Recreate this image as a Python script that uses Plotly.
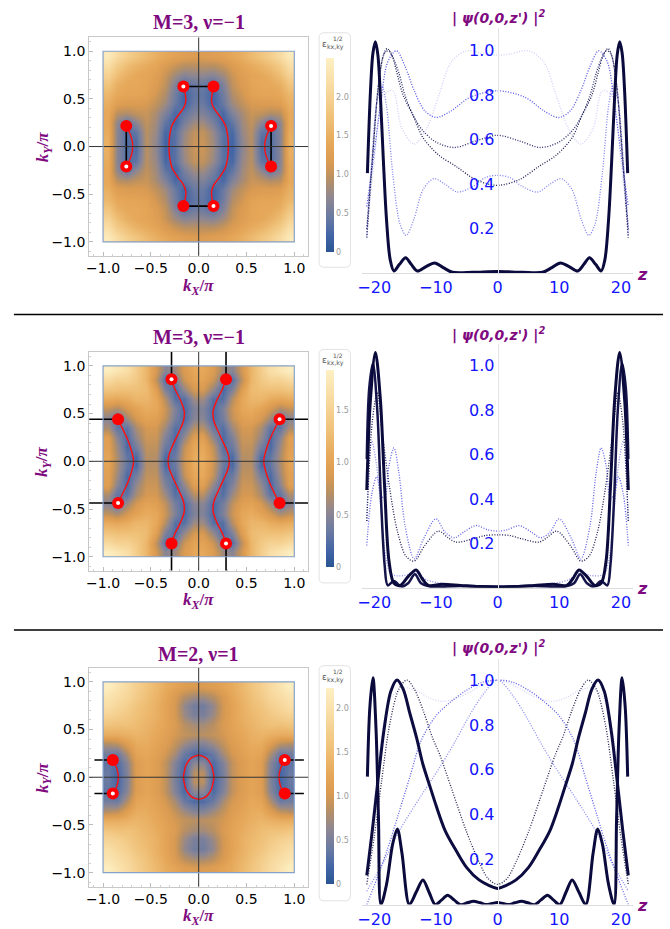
import numpy as np
import plotly.graph_objects as go

W, H = 670, 929

# ---------------- heatmap data (quarter grids, cell centres 0.05..0.95, rows = ky ascending) -------------
grid_pos = [0.05, 0.15, 0.25, 0.35, 0.45, 0.55, 0.65, 0.75, 0.85, 0.95]

field1_q = [
    [1.05, 0.80, 0.35, 0.20, 0.70, 0.95, 0.30, 0.30, 0.65, 1.50],
    [1.00, 0.75, 0.35, 0.25, 0.75, 0.95, 0.40, 0.30, 0.65, 1.45],
    [0.80, 0.55, 0.20, 0.40, 0.80, 1.00, 0.70, 0.40, 0.70, 1.40],
    [0.60, 0.40, 0.25, 0.60, 0.85, 1.05, 1.00, 0.90, 0.95, 1.40],
    [0.45, 0.20, 0.45, 0.80, 1.00, 1.15, 1.20, 1.20, 1.25, 1.50],
    [0.40, 0.20, 0.50, 0.90, 1.10, 1.30, 1.35, 1.35, 1.40, 1.60],
    [0.45, 0.30, 0.60, 1.00, 1.20, 1.35, 1.40, 1.40, 1.50, 1.80],
    [0.70, 0.65, 0.80, 1.05, 1.25, 1.35, 1.40, 1.50, 1.70, 2.00],
    [0.95, 0.95, 1.05, 1.20, 1.35, 1.45, 1.55, 1.70, 1.90, 2.20],
    [1.20, 1.25, 1.30, 1.40, 1.50, 1.65, 1.80, 1.95, 2.15, 2.40],
]
field2_q = [
    [1.10, 0.80, 0.35, 0.20, 0.70, 0.70, 0.20, 0.30, 0.65, 1.00],
    [1.05, 0.75, 0.25, 0.35, 0.75, 0.75, 0.40, 0.20, 0.60, 0.95],
    [0.95, 0.55, 0.20, 0.45, 0.80, 0.80, 0.55, 0.20, 0.50, 0.95],
    [0.70, 0.35, 0.25, 0.60, 0.85, 0.85, 0.65, 0.30, 0.30, 0.65],
    [0.50, 0.20, 0.40, 0.75, 0.95, 1.00, 0.85, 0.60, 0.30, 0.50],
    [0.45, 0.20, 0.45, 0.80, 1.05, 1.10, 1.00, 0.85, 0.65, 0.75],
    [0.60, 0.25, 0.25, 0.70, 1.05, 1.20, 1.20, 1.10, 1.05, 1.10],
    [0.85, 0.55, 0.20, 0.45, 0.95, 1.25, 1.30, 1.30, 1.30, 1.35],
    [1.00, 0.80, 0.40, 0.25, 0.75, 1.20, 1.40, 1.50, 1.50, 1.60],
    [1.05, 0.90, 0.60, 0.50, 0.85, 1.20, 1.45, 1.65, 1.75, 1.85],
]
field3_q = [
    [0.85, 0.20, 0.50, 0.90, 1.10, 1.20, 1.10, 0.55, 0.20, 0.40],
    [0.60, 0.25, 0.55, 0.90, 1.10, 1.20, 1.10, 0.60, 0.25, 0.35],
    [0.25, 0.40, 0.75, 1.00, 1.15, 1.25, 1.20, 0.80, 0.40, 0.45],
    [0.55, 0.70, 0.90, 1.10, 1.20, 1.30, 1.30, 1.10, 0.85, 0.80],
    [0.85, 0.90, 1.00, 1.15, 1.25, 1.35, 1.40, 1.35, 1.30, 1.30],
    [0.75, 0.85, 1.05, 1.20, 1.30, 1.40, 1.50, 1.55, 1.55, 1.60],
    [0.50, 0.70, 1.00, 1.20, 1.35, 1.45, 1.55, 1.65, 1.75, 1.80],
    [0.45, 0.65, 1.00, 1.20, 1.35, 1.50, 1.60, 1.75, 1.85, 1.95],
    [0.75, 0.85, 1.05, 1.25, 1.40, 1.55, 1.70, 1.85, 1.95, 2.05],
    [1.05, 1.10, 1.20, 1.30, 1.45, 1.60, 1.75, 1.90, 2.05, 2.20],
]
zmax_vals = [2.5, 1.88, 2.23]
cbar_tickvals = [[0, 0.5, 1.0, 1.5, 2.0], [0, 0.5, 1.0, 1.5], [0, 0.5, 1.0, 1.5, 2.0]]
cbar_ticktext = [["0", "0.5", "1.0", "1.5", "2.0"], ["0", "0.5", "1.0", "1.5"], ["0", "0.5", "1.0", "1.5", "2.0"]]

panel_titles = ["M=3, ν=−1", "M=3, ν=−1", "M=2, ν=1"]

# ---------------- red curves (upper half of right-hand curve, from ky=0 to the dot) -------------
row1_inner_x = [0.31, 0.305, 0.28, 0.22, 0.16, 0.135, 0.14, 0.155]
row1_inner_y = [0.0, 0.10, 0.22, 0.32, 0.40, 0.47, 0.55, 0.63]
row1_outer_x = [0.69, 0.70, 0.725, 0.757]
row1_outer_y = [0.0, 0.08, 0.15, 0.217]

row2_inner_x = [0.32, 0.31, 0.27, 0.21, 0.16, 0.15, 0.19, 0.25, 0.285]
row2_inner_y = [0.0, 0.07, 0.17, 0.30, 0.42, 0.52, 0.64, 0.76, 0.86]
row2_outer_x = [0.68, 0.70, 0.74, 0.80, 0.845]
row2_outer_y = [0.0, 0.10, 0.22, 0.35, 0.44]

row3_arc_x = [0.84, 0.855, 0.90]
row3_arc_y = [0.0, 0.09, 0.18]
row3_ellipse_x = [0.16, 0.15, 0.135, 0.11, 0.08, 0.04, 0.0]
row3_ellipse_y = [0.0, 0.06, 0.12, 0.165, 0.20, 0.222, 0.23]

# ---------------- dots (Weyl points) -------------
dots1_x = [-0.16, 0.155, -0.757, -0.757, 0.757, 0.757, -0.16, 0.155]
dots1_y = [0.63, 0.63, 0.217, -0.21, 0.217, -0.21, -0.625, -0.625]
dots1_hollow = [1, 0, 0, 1, 1, 0, 0, 1]
dots2_x = [-0.284, 0.286, -0.843, 0.846, -0.843, 0.846, -0.284, 0.286]
dots2_y = [0.86, 0.86, 0.44, 0.44, -0.437, -0.437, -0.862, -0.862]
dots2_hollow = [1, 0, 0, 1, 1, 0, 0, 1]
dots3_x = [-0.898, -0.898, 0.90, 0.90]
dots3_y = [0.18, -0.17, 0.18, -0.17]
dots3_hollow = [0, 1, 1, 0]

# ---------------- black segments [x0, y0, x1, y1] -------------
segs1 = [[-0.16, 0.63, 0.155, 0.63], [-0.16, -0.625, 0.155, -0.625],
         [-0.757, 0.217, -0.757, -0.21], [0.757, 0.217, 0.757, -0.21]]
segs2 = [[-0.284, 0.86, -0.284, 1.15], [0.286, 0.86, 0.286, 1.15],
         [-0.284, -0.862, -0.284, -1.15], [0.286, -0.862, 0.286, -1.15],
         [-0.843, 0.44, -1.15, 0.44], [-0.843, -0.437, -1.15, -0.437],
         [0.846, 0.44, 1.15, 0.44], [0.846, -0.437, 1.15, -0.437]]
segs3 = [[-0.898, 0.18, -1.09, 0.18], [-0.898, -0.17, -1.09, -0.17],
         [0.90, 0.18, 1.10, 0.18], [0.90, -0.17, 1.10, -0.17]]

# ---------------- |psi|^2 curves (left half, z from -21.2 to 0; profiles are symmetric) -------------
r1_A_x = [-21.1, -20.6, -20.2, -19.8, -19.4, -19.0, -18.5, -18.0, -17.4, -16.8, -15.9, -14.9, -14.0, -13.0, -11.6, -10.2, -8.8, -7.3, -4.0, 0]
r1_A_y = [0.45, 0.82, 0.99, 1.04, 0.98, 0.80, 0.50, 0.24, 0.06, 0.01, 0.04, 0.07, 0.04, 0.01, 0.03, 0.046, 0.025, 0.004, 0.004, 0.008]
r1_B_x = [-21.2, -20.3, -19.3, -18.5, -17.9, -17.0, -16.4, -15.3, -13.7, -12.1, -9.5, -6.7, -3.5, 0]
r1_B_y = [0.16, 0.50, 0.85, 0.98, 1.01, 0.97, 0.91, 0.80, 0.71, 0.61, 0.53, 0.48, 0.42, 0.395]
r1_C_x = [-21.2, -20.2, -19.2, -18.3, -17.6, -16.8, -16.0, -15.0, -13.7, -12.1, -10.0, -7.0, -3.5, 0]
r1_C_y = [0.20, 0.55, 0.87, 0.99, 1.0, 0.96, 0.90, 0.80, 0.71, 0.64, 0.59, 0.565, 0.595, 0.62]
r1_D_x = [-21.2, -20.2, -19.0, -17.8, -16.4, -15.0, -13.5, -11.8, -9.95, -7.5, -4.5, 0]
r1_D_y = [0.30, 0.50, 0.75, 0.95, 1.0, 0.93, 0.82, 0.73, 0.70, 0.73, 0.79, 0.82]
r1_E_x = [-21.2, -20.4, -19.5, -18.7, -18.0, -17.0, -15.8, -14.8, -13.6, -12.0, -10.3, -8.5, -6.5, -4.0, -2.0, 0]
r1_E_y = [0.17, 0.50, 0.78, 0.84, 0.75, 0.45, 0.22, 0.17, 0.24, 0.38, 0.425, 0.40, 0.365, 0.39, 0.43, 0.44]
r1_F_x = [-21.2, -20.0, -18.5, -17.0, -15.5, -13.5, -11.5, -9.5, -7.5, -5.0, -2.0, 0]
r1_F_y = [0.20, 0.50, 0.80, 0.82, 0.65, 0.58, 0.65, 0.80, 0.95, 1.0, 0.985, 0.98]

r2_T1_x = [-21.2, -20.6, -19.8, -19.0, -18.3, -17.6, -16.8, -15.8, -14.5, -13.2, -12.2, -11.2, -9.0, -6.0, -3.0, 0]
r2_T1_y = [0.44, 0.85, 1.06, 0.85, 0.45, 0.12, 0.02, 0.01, 0.05, 0.08, 0.04, 0.01, 0.015, 0.01, 0.005, 0.003]
r2_T2_x = [-21.2, -20.8, -20.2, -19.5, -18.9, -18.3, -17.8, -16.8, -15.6, -14.5, -13.4, -12.4, -11.0, -6.0, 0]
r2_T2_y = [0.58, 0.90, 1.01, 0.80, 0.40, 0.10, 0.01, 0.03, 0.005, 0.02, 0.06, 0.02, 0.005, 0.008, 0.004]
r2_D1_x = [-21.2, -20.3, -19.5, -18.7, -17.5, -16.2, -14.8, -13.5, -11.8, -9.6, -8.0, -6.7, -4.0, -2.0, 0]
r2_D1_y = [0.30, 0.75, 0.88, 0.70, 0.45, 0.25, 0.14, 0.12, 0.19, 0.255, 0.225, 0.205, 0.22, 0.235, 0.238]
r2_L2_x = [-21.2, -20.4, -19.6, -18.9, -18.3, -17.6, -16.8, -16.0, -15.0, -13.5, -12.0, -10.0, -8.5, -7.0, -5.5, -3.5, -1.5, 0]
r2_L2_y = [0.19, 0.42, 0.50, 0.42, 0.40, 0.55, 0.63, 0.52, 0.28, 0.13, 0.22, 0.31, 0.25, 0.225, 0.25, 0.28, 0.26, 0.255]
r2_L1_x = [-21.2, -20.4, -19.6, -18.8, -18.0, -17.2, -15.0, -13.5, -11.5, -8.0, -4.0, 0]
r2_L1_y = [0.30, 0.66, 0.55, 0.32, 0.12, 0.06, 0.055, 0.07, 0.035, 0.015, 0.01, 0.008]

r3_S1_x = [-21.1, -20.7, -20.2, -19.7, -19.3, -18.9, -18.0, -17.0, -16.25, -15.5, -14.3, -13.2, -12.1, -11.1, -10.1, -9.1, -8.1, -7.0, -6.0, -4.9, -3.9, -2.8, -1.8, -0.9, 0]
r3_S1_y = [0.57, 0.88, 1.01, 0.78, 0.38, 0.0, 0.09, 0.27, 0.337, 0.23, 0.0, 0.055, 0.11, 0.055, 0.0, 0.02, 0.042, 0.02, 0.0, 0.008, 0.015, 0.008, 0.0, 0.005, 0.01]
r3_S2_x = [-21.2, -20.3, -19.4, -18.4, -17.3, -16.3, -15.3, -14.2, -13.1, -12.1, -11.0, -9.95, -8.5, -6.7, -5.0, -3.0, -1.35, 0]
r3_S2_y = [0.13, 0.33, 0.55, 0.78, 0.95, 1.0, 0.96, 0.85, 0.74, 0.625, 0.53, 0.44, 0.33, 0.24, 0.165, 0.11, 0.085, 0.072]
r3_D1_x = [-21.2, -20.0, -18.8, -17.5, -16.0, -14.7, -13.5, -12.0, -10.5, -9.4, -7.5, -5.1, -3.0, -1.5, 0]
r3_D1_y = [0.09, 0.30, 0.55, 0.80, 0.96, 1.0, 0.96, 0.86, 0.74, 0.67, 0.52, 0.33, 0.19, 0.115, 0.09]
r3_L1_x = [-21.2, -20.0, -18.5, -17.0, -15.0, -13.0, -11.0, -9.0, -6.5, -4.0, -2.0, 0]
r3_L1_y = [0.10, 0.45, 0.80, 0.93, 0.965, 0.95, 0.92, 0.905, 0.92, 0.955, 0.985, 1.0]
r3_L2_x = [-21.2, -19.5, -17.8, -16.1, -14.2, -12.4, -10.0, -7.5, -5.0, -2.5, 0]
r3_L2_y = [0.0, 0.12, 0.25, 0.40, 0.57, 0.73, 0.84, 0.905, 0.955, 0.99, 1.0]
r3_L3_x = [-21.2, -18.5, -15.9, -12.5, -9.4, -7.0, -4.8, -2.5, 0]
r3_L3_y = [0.06, 0.19, 0.33, 0.48, 0.61, 0.72, 0.83, 0.93, 1.0]

# ---------------- helpers -------------
def px_x(p):
    return p / W

def px_y(p):
    return 1 - p / H

def full_field(q):
    q = np.array(q)
    top = np.hstack([q[:, ::-1], q])
    bottom = np.hstack([q[::-1, ::-1], q[::-1, :]])
    return np.vstack([bottom, top])

full_pos = [-p for p in reversed(grid_pos)] + grid_pos

def mirror_z(xs, ys):
    return list(xs) + [-v for v in reversed(xs[:-1])], list(ys) + list(reversed(ys[:-1]))

def vert_curve(xs, ys):
    return list(reversed(xs)) + list(xs[1:]), [-v for v in reversed(ys)] + list(ys[1:])

def ellipse_loop(xs, ys):
    q1x, q1y = list(xs), list(ys)
    q2x, q2y = [-v for v in reversed(xs)], list(reversed(ys))
    q3x, q3y = [-v for v in xs], [-v for v in ys]
    q4x, q4y = list(reversed(xs)), [-v for v in reversed(ys)]
    return q1x + q2x[1:] + q3x[1:] + q4x[1:], q1y + q2y[1:] + q3y[1:] + q4y[1:]

colorscale = [
    [0.00, "#2a5592"], [0.08, "#4064a6"], [0.18, "#6a7aa2"], [0.28, "#8e8792"],
    [0.38, "#b99062"], [0.46, "#d99a52"], [0.55, "#e5a658"], [0.70, "#f0c27a"],
    [0.85, "#f8daa0"], [1.00, "#fdf0c4"],
]

PURPLE = "#7f0a7f"
BLUE = "#1414ff"
DOTS = "1px,1.6px"

fig = go.Figure()
layout = dict(width=W, height=H, margin=dict(l=0, r=0, t=0, b=0),
              paper_bgcolor="white", plot_bgcolor="white", showlegend=False)
annotations = []
shapes = []

def ann(x, y, text, font, **kw):
    d = dict(xref="paper", yref="paper", x=px_x(x), y=px_y(y), text=text, showarrow=False,
             xanchor="center", yanchor="middle", font=font)
    d.update(kw)
    annotations.append(d)

heat_y = [(37.7, 257.3), (354.3, 574.3), (672.3, 892.3)]
cbar_bar = [(59, 253), (373.3, 570.7), (693.3, 889.3)]
cbar_box = [(33, 269), (351.7, 586.7), (670, 906.7)]
title_y = [22, 339.3, 658.3]
kx_y = [289, 605, 922.5]
line_y = [(28, 275), (346, 591.5), (663, 910.5)]
line_top = [1.103, 1.099, 1.095]
psi_title_y = [18, 336.7, 651.7]

fields = [field1_q, field2_q, field3_q]
curves_red = [
    [vert_curve(row1_inner_x, row1_inner_y), vert_curve(row1_outer_x, row1_outer_y)],
    [vert_curve(row2_inner_x, row2_inner_y), vert_curve(row2_outer_x, row2_outer_y)],
    [vert_curve(row3_arc_x, row3_arc_y)],
]
dots = [(dots1_x, dots1_y, dots1_hollow), (dots2_x, dots2_y, dots2_hollow), (dots3_x, dots3_y, dots3_hollow)]
segs = [segs1, segs2, segs3]

R = 1.145
ticktxt_k = ["−1.0", "−0.5", "0.0", "0.5", "1.0"]

line_sets = [
    [(r1_F_x, r1_F_y, "#cfcff8", 1.3, DOTS), (r1_E_x, r1_E_y, "#8080f0", 1.3, DOTS),
     (r1_D_x, r1_D_y, "#5656e6", 1.3, DOTS), (r1_C_x, r1_C_y, "#28286a", 1.3, DOTS),
     (r1_B_x, r1_B_y, "#1a1a50", 1.3, DOTS), (r1_A_x, r1_A_y, "#0a0a3c", 3, "solid")],
    [(r2_L1_x, r2_L1_y, "#8c8cf0", 1.3, DOTS), (r2_L2_x, r2_L2_y, "#6060e8", 1.3, DOTS),
     (r2_D1_x, r2_D1_y, "#1a1a50", 1.3, DOTS), (r2_T2_x, r2_T2_y, "#14144a", 2.5, "solid"),
     (r2_T1_x, r2_T1_y, "#0a0a3c", 3, "solid")],
    [(r3_L1_x, r3_L1_y, "#d4d4f8", 1.3, DOTS), (r3_L3_x, r3_L3_y, "#8a8af2", 1.3, DOTS),
     (r3_L2_x, r3_L2_y, "#5c5ce6", 1.3, DOTS), (r3_D1_x, r3_D1_y, "#22224e", 1.3, DOTS),
     (r3_S2_x, r3_S2_y, "#0c0c40", 3, "solid"), (r3_S1_x, r3_S1_y, "#0a0a3c", 3, "solid")],
]

def axname(n):
    return "" if n == 1 else str(n)

for i in range(3):
    nh, nl = 2 * i + 1, 2 * i + 2
    hx, hy = "x" + axname(nh), "y" + axname(nh)
    lx, ly = "x" + axname(nl), "y" + axname(nl)
    hxk, hyk = "xaxis" + axname(nh), "yaxis" + axname(nh)
    lxk, lyk = "xaxis" + axname(nl), "yaxis" + axname(nl)

    b0, b1 = cbar_bar[i]
    fig.add_trace(go.Heatmap(
        x=full_pos, y=full_pos, z=full_field(fields[i]), zsmooth="best",
        colorscale=colorscale, zmin=0, zmax=zmax_vals[i], xaxis=hx, yaxis=hy,
        hoverinfo="skip",
        colorbar=dict(x=px_x(324), xanchor="left", xpad=0, ypad=0,
                      y=px_y((b0 + b1) / 2), yanchor="middle",
                      len=b1 - b0, lenmode="pixels", thickness=8, outlinewidth=0,
                      tickvals=cbar_tickvals[i], ticktext=cbar_ticktext[i], ticks="",
                      tickfont=dict(family="DejaVu Sans", size=8, color="#999999")),
    ))
    sx, sy = [], []
    for s in segs[i]:
        sx += [s[0], s[2], None]
        sy += [s[1], s[3], None]
    fig.add_trace(go.Scatter(x=sx, y=sy, mode="lines", line=dict(color="black", width=1.6),
                             xaxis=hx, yaxis=hy, hoverinfo="skip"))
    for cx, cy in curves_red[i]:
        for sgn in (1, -1):
            fig.add_trace(go.Scatter(x=[sgn * v for v in cx], y=cy, mode="lines",
                                     line=dict(color="#ff1010", width=1.4, shape="spline"),
                                     xaxis=hx, yaxis=hy, hoverinfo="skip"))
    if i == 2:
        ex, ey = ellipse_loop(row3_ellipse_x, row3_ellipse_y)
        fig.add_trace(go.Scatter(x=ex, y=ey, mode="lines",
                                 line=dict(color="#ff1010", width=1.4, shape="spline"),
                                 xaxis=hx, yaxis=hy, hoverinfo="skip"))
    dx, dy, dh = dots[i]
    fig.add_trace(go.Scatter(x=dx, y=dy, mode="markers",
                             marker=dict(color="#ff0000", size=12, line=dict(width=0)),
                             xaxis=hx, yaxis=hy, hoverinfo="skip"))
    hxs = [x for x, h in zip(dx, dh) if h]
    hys = [y for y, h in zip(dy, dh) if h]
    fig.add_trace(go.Scatter(x=hxs, y=hys, mode="markers",
                             marker=dict(color="white", size=4, line=dict(width=0)),
                             xaxis=hx, yaxis=hy, hoverinfo="skip"))

    y0p, y1p = heat_y[i]
    common = dict(range=[-R, R], showline=True, mirror=True, linecolor="#c8c8c8", linewidth=1,
                  ticks="inside", ticklen=4, tickcolor="#bbbbbb", tickvals=[-1, -0.5, 0, 0.5, 1],
                  ticktext=ticktxt_k, tickfont=dict(family="DejaVu Sans", size=14, color="black"),
                  showgrid=False, zeroline=False,
                  minor=dict(ticks="inside", ticklen=2, tickcolor="#d0d0d0", tick0=0, dtick=0.1))
    layout[hxk] = dict(domain=[px_x(85.7), px_x(306)], anchor=hy, **common)
    layout[hyk] = dict(domain=[px_y(y1p), px_y(y0p)], anchor=hx, **common)

    shapes.append(dict(type="line", xref=hx, yref=f"{hy} domain", x0=0, x1=0, y0=0, y1=1,
                       line=dict(color="#333333", width=1), layer="above"))
    shapes.append(dict(type="line", xref=f"{hx} domain", yref=hy, x0=0, x1=1, y0=0, y1=0,
                       line=dict(color="#333333", width=1), layer="above"))
    shapes.append(dict(type="rect", xref=hx, yref=hy, x0=-1, x1=1, y0=-1, y1=1,
                       line=dict(color="#86a2cc", width=1.2), layer="above"))
    c0, c1 = cbar_box[i]
    xa, xb, ya, yb, r = 317, 348.5, c0, c1, 5
    path = (f"M {px_x(xa + r)},{px_y(ya)} L {px_x(xb - r)},{px_y(ya)} Q {px_x(xb)},{px_y(ya)} {px_x(xb)},{px_y(ya + r)} "
            f"L {px_x(xb)},{px_y(yb - r)} Q {px_x(xb)},{px_y(yb)} {px_x(xb - r)},{px_y(yb)} "
            f"L {px_x(xa + r)},{px_y(yb)} Q {px_x(xa)},{px_y(yb)} {px_x(xa)},{px_y(yb - r)} "
            f"L {px_x(xa)},{px_y(ya + r)} Q {px_x(xa)},{px_y(ya)} {px_x(xa + r)},{px_y(ya)} Z")
    shapes.append(dict(type="path", xref="paper", yref="paper", path=path,
                       line=dict(color="#e2e2e2", width=1)))
    ann(331, c0 + 12, "ε<sub>kx,ky</sub>", dict(family="DejaVu Sans", size=9, color="#555555"))
    ann(336, c0 + 6, "1/2", dict(family="DejaVu Sans", size=6, color="#555555"))

    ann(195.7, title_y[i], f"<b>{panel_titles[i]}</b>",
        dict(family="Liberation Serif", size=20, color=PURPLE))
    ann(195.7, kx_y[i], "<b><i>k</i><sub><i>X</i></sub>/<i>π</i></b>",
        dict(family="Liberation Serif", size=17, color=PURPLE))
    ann(40, (y0p + y1p) / 2, "<b><i>k</i><sub><i>Y</i></sub>/<i>π</i></b>",
        dict(family="Liberation Serif", size=17, color=PURPLE), textangle=-90)

    for xs, ys, col, wdt, dash in line_sets[i]:
        fx, fy = mirror_z(xs, ys)
        fig.add_trace(go.Scatter(x=fx, y=fy, mode="lines",
                                 line=dict(color=col, width=wdt, dash=dash, shape="spline", smoothing=0.9),
                                 xaxis=lx, yaxis=ly, hoverinfo="skip"))
    ly0, ly1 = line_y[i]
    layout[lxk] = dict(domain=[px_x(360), px_x(633)], range=[-22, 22], anchor=ly,
                       showline=True, linecolor="#dcdcdc", linewidth=1, showgrid=False, zeroline=False,
                       ticks="", tickvals=[-20, -10, 0, 10, 20], ticktext=["−20", "−10", "0", "10", "20"],
                       tickfont=dict(family="DejaVu Sans", size=16, color=BLUE))
    layout[lyk] = dict(domain=[px_y(ly1), px_y(ly0)], range=[0, line_top[i]], anchor="free",
                       position=px_x(496.7), showline=True, linecolor="#e4e4e4", linewidth=1,
                       showgrid=False, zeroline=False, ticks="",
                       tickvals=[0.2, 0.4, 0.6, 0.8, 1.0], ticktext=["0.2", "0.4", "0.6", "0.8", "1.0"],
                       tickfont=dict(family="DejaVu Sans", size=16, color=BLUE))
    ann(497, psi_title_y[i], "<b><i>| ψ(0,0,z') |<sup>2</sup></i></b>",
        dict(family="DejaVu Sans", size=14, color=PURPLE))
    ann(642, ly1 + 1, "<b><i>z</i></b>", dict(family="DejaVu Sans", size=16, color=PURPLE))

for yy in (316.5, 634):
    shapes.append(dict(type="line", xref="paper", yref="paper", x0=px_x(10), x1=px_x(663),
                       y0=px_y(yy), y1=px_y(yy), line=dict(color="black", width=1.5)))

layout["annotations"] = annotations
layout["shapes"] = shapes
fig.update_layout(**layout)
fig.write_html("out.html", config={"displayModeBar": False},
               post_script="document.body.style.margin='0px';document.body.style.overflow='hidden';")
